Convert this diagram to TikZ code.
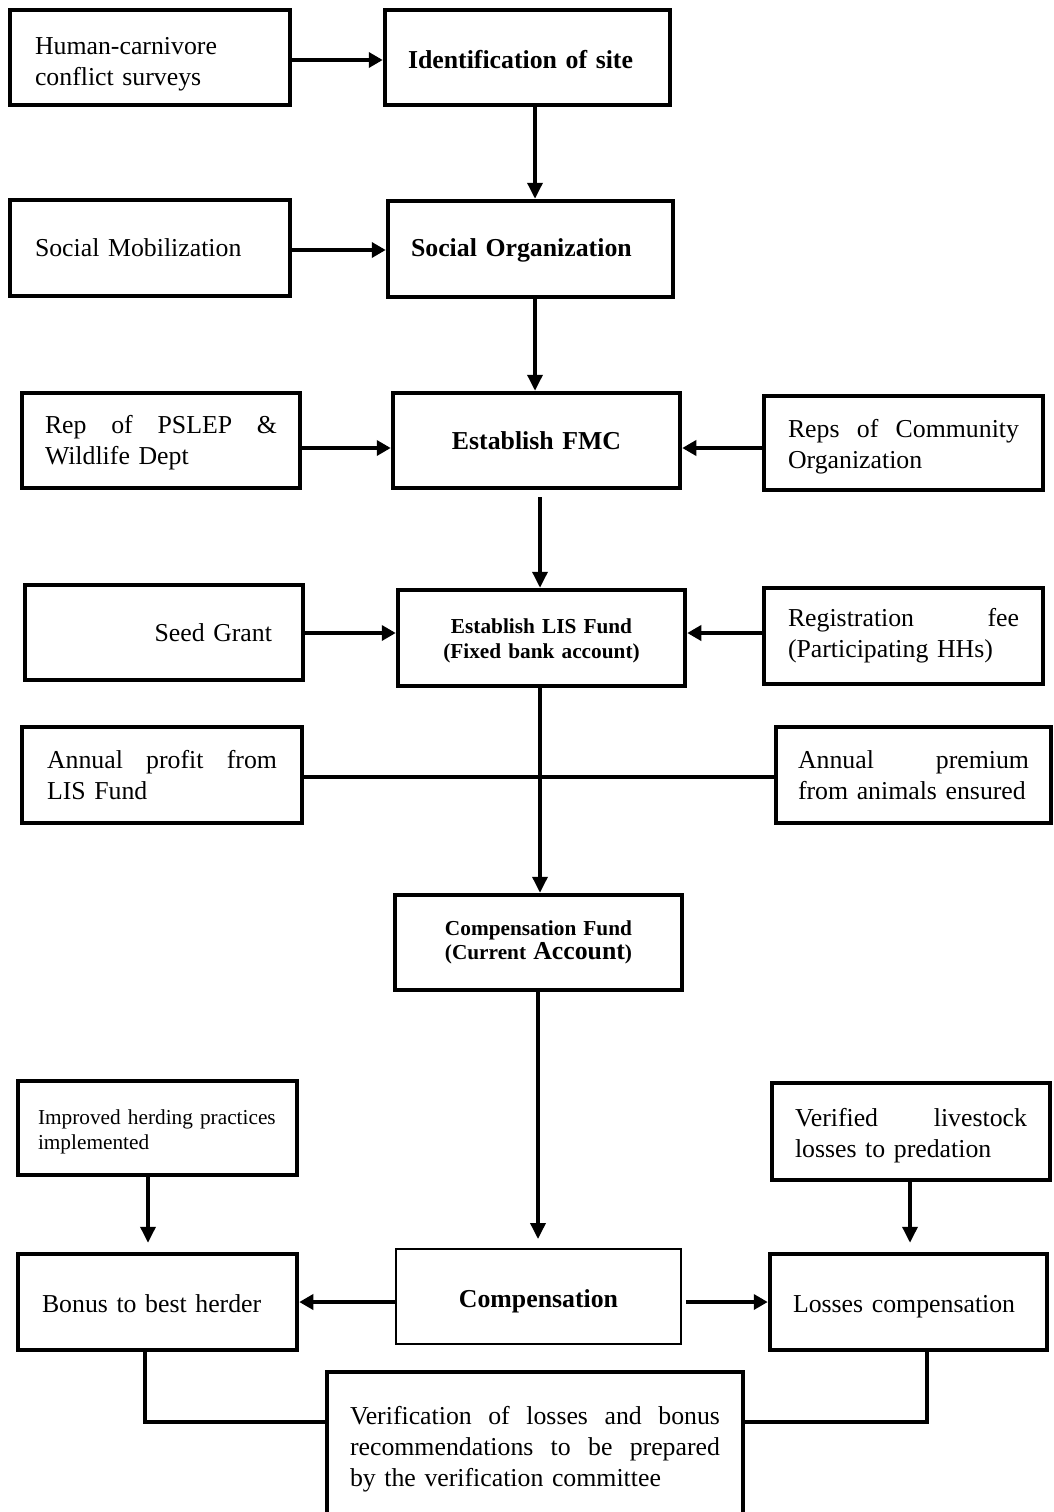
\documentclass[tikz,border=0pt]{standalone}
\usepackage{fontspec}
\setmainfont{Liberation Serif}
\usetikzlibrary{arrows.meta,calc}
\newcommand\fbig{\fontsize{25.8pt}{31pt}\selectfont}
\newcommand\fsml{\fontsize{21.3pt}{24.5pt}\selectfont}
\begin{document}
\begin{tikzpicture}[x=1pt,y=-1pt,
  box/.style={draw, line width=4.5pt, inner ysep=0pt, font=\fbig},
  thinbox/.style={draw, line width=2pt, inner ysep=0pt, font=\fbig},
  lower/.style={execute at begin node={\rule{0pt}{#1}}},
  arr/.style={line width=4pt, -{Triangle[length=14pt,width=15pt]}},
  varr/.style={line width=3.5pt, -{Triangle[length=16pt,width=15pt]}},
  ln/.style={line width=4pt}]
\useasboundingbox (0,0) rectangle (1053,1512);
\clip (0,0) rectangle (1053,1512);

% helper coordinates
\coordinate (c535) at (535,0);
\coordinate (c540) at (540,0);
\coordinate (c538) at (538,0);
\coordinate (c148) at (148,0);
\coordinate (c910) at (910,0);
\coordinate (c145) at (145,0);
\coordinate (c927) at (927,0);
\coordinate (r60) at (0,60);
\coordinate (r250) at (0,250);
\coordinate (r448) at (0,448);
\coordinate (r633) at (0,633);
\coordinate (r777) at (0,777);
\coordinate (r1302) at (0,1302);
\coordinate (r1422) at (0,1422);

% nodes
\node[box, lower=30pt, minimum height=95pt, text width=230pt, inner xsep=25pt, align=left] (hc) at (150,57.5)
  {Human-carnivore\\conflict surveys};
\node[box, lower=22pt, minimum height=95pt, text width=239pt, inner xsep=23pt, align=left, font=\fbig\bfseries] (id) at (527.5,57.5)
  {Identification of site};
\node[box, minimum height=96pt, text width=230pt, inner xsep=25pt, align=left] (sm) at (150,248)
  {Social Mobilization};
\node[box, lower=21pt, minimum height=96pt, text width=239pt, inner xsep=23pt, align=left, font=\fbig\bfseries] (so) at (530.5,249)
  {Social Organization};
\node[box, lower=23pt, minimum height=95pt, text width=232pt, inner xsep=23pt, align=left] (pslep) at (161,440.5)
  {Rep\hfill of\hfill PSLEP\hfill \&\\Wildlife Dept};
\node[box, minimum height=95pt, text width=241pt, inner xsep=23pt, align=center, font=\fbig\bfseries] (fmc) at (536.5,440.5)
  {Establish FMC};
\node[box, lower=26pt, minimum height=94pt, text width=231pt, inner xsep=24pt, align=left] (rc) at (903.5,443)
  {Reps\hfill of\hfill Community\\Organization};
\node[box, minimum height=95pt, text width=216pt, inner xsep=31pt, align=right] (sg) at (164,632.5)
  {Seed Grant};
\node[box, lower=21pt, minimum height=96pt, text width=241pt, inner xsep=23pt, align=center, font=\fsml\bfseries] (lis) at (541.5,638)
  {Establish LIS Fund\\(Fixed bank account)};
\node[box, minimum height=96pt, text width=231pt, inner xsep=24pt, align=left] (reg) at (903.5,636)
  {Registration\hfill fee\\(Participating HHs)};
\node[box, minimum height=96pt, text width=230pt, inner xsep=25pt, align=left] (ap) at (162,775)
  {Annual\hfill profit\hfill from\\LIS Fund};
\node[box, minimum height=96pt, text width=231pt, inner xsep=22pt, align=left] (apr) at (913.5,775)
  {Annual\hfill premium\\from animals ensured};
\node[box, minimum height=95pt, text width=241pt, inner xsep=23pt, align=center, font=\fsml\bfseries] (cf) at (538.5,942.5)
  {Compensation Fund\\(Current {\fbig Account})};
\node[box, lower=23pt, minimum height=94pt, text width=239pt, inner xsep=20pt, align=left, font=\fsml] (ih) at (157.5,1128)
  {Improved herding practices\\implemented};
\node[box, lower=26pt, minimum height=97pt, text width=232pt, inner xsep=23pt, align=left] (vl) at (911,1131.5)
  {Verified\hfill livestock\\losses to predation};
\node[box, lower=22pt, minimum height=96pt, text width=231pt, inner xsep=24pt, align=left] (bb) at (157.5,1302)
  {Bonus to best herder};
\node[thinbox, lower=27pt, minimum height=95pt, text width=239pt, inner xsep=23pt, align=center, font=\fbig\bfseries] (comp) at (538.5,1296.5)
  {Compensation};
\node[box, lower=27pt, minimum height=96pt, text width=231pt, inner xsep=23pt, align=left] (lc) at (908.5,1302)
  {Losses compensation};
\node[box, lower=22pt, minimum height=150pt, text width=370pt, inner xsep=23pt, align=left] (ver) at (535,1447)
  {Verification\hfill of\hfill losses\hfill and\hfill bonus\\recommendations\hfill to\hfill be\hfill prepared\\by the verification committee};

% connectors
\draw[arr] (hc.east |- r60) -- (id.west |- r60);
\draw[varr] (id.south -| c535) -- (so.north -| c535);
\draw[arr] (sm.east |- r250) -- (so.west |- r250);
\draw[varr] (so.south -| c535) -- (fmc.north -| c535);
\draw[arr] (pslep.east |- r448) -- (fmc.west |- r448);
\draw[arr] (rc.west |- r448) -- (fmc.east |- r448);
\draw[varr, shorten <=7pt] (fmc.south -| c540) -- (lis.north -| c540);
\draw[arr] (sg.east |- r633) -- (lis.west |- r633);
\draw[arr] (reg.west |- r633) -- (lis.east |- r633);
\draw[ln] (ap.east |- r777) -- (apr.west |- r777);
\draw[varr] (lis.south -| c540) -- (cf.north -| c540);
\draw[varr, shorten >=9pt] (cf.south -| c538) -- (comp.north -| c538);
\draw[varr, shorten >=9pt] (ih.south -| c148) -- (bb.north -| c148);
\draw[varr, shorten >=9pt] (vl.south -| c910) -- (lc.north -| c910);
\draw[arr] (comp.west |- r1302) -- (bb.east |- r1302);
\draw[arr, shorten <=4pt] (comp.east |- r1302) -- (lc.west |- r1302);
\draw[ln] (bb.south -| c145) |- (ver.west |- r1422);
\draw[ln] (lc.south -| c927) |- (ver.east |- r1422);
\end{tikzpicture}
\end{document}
